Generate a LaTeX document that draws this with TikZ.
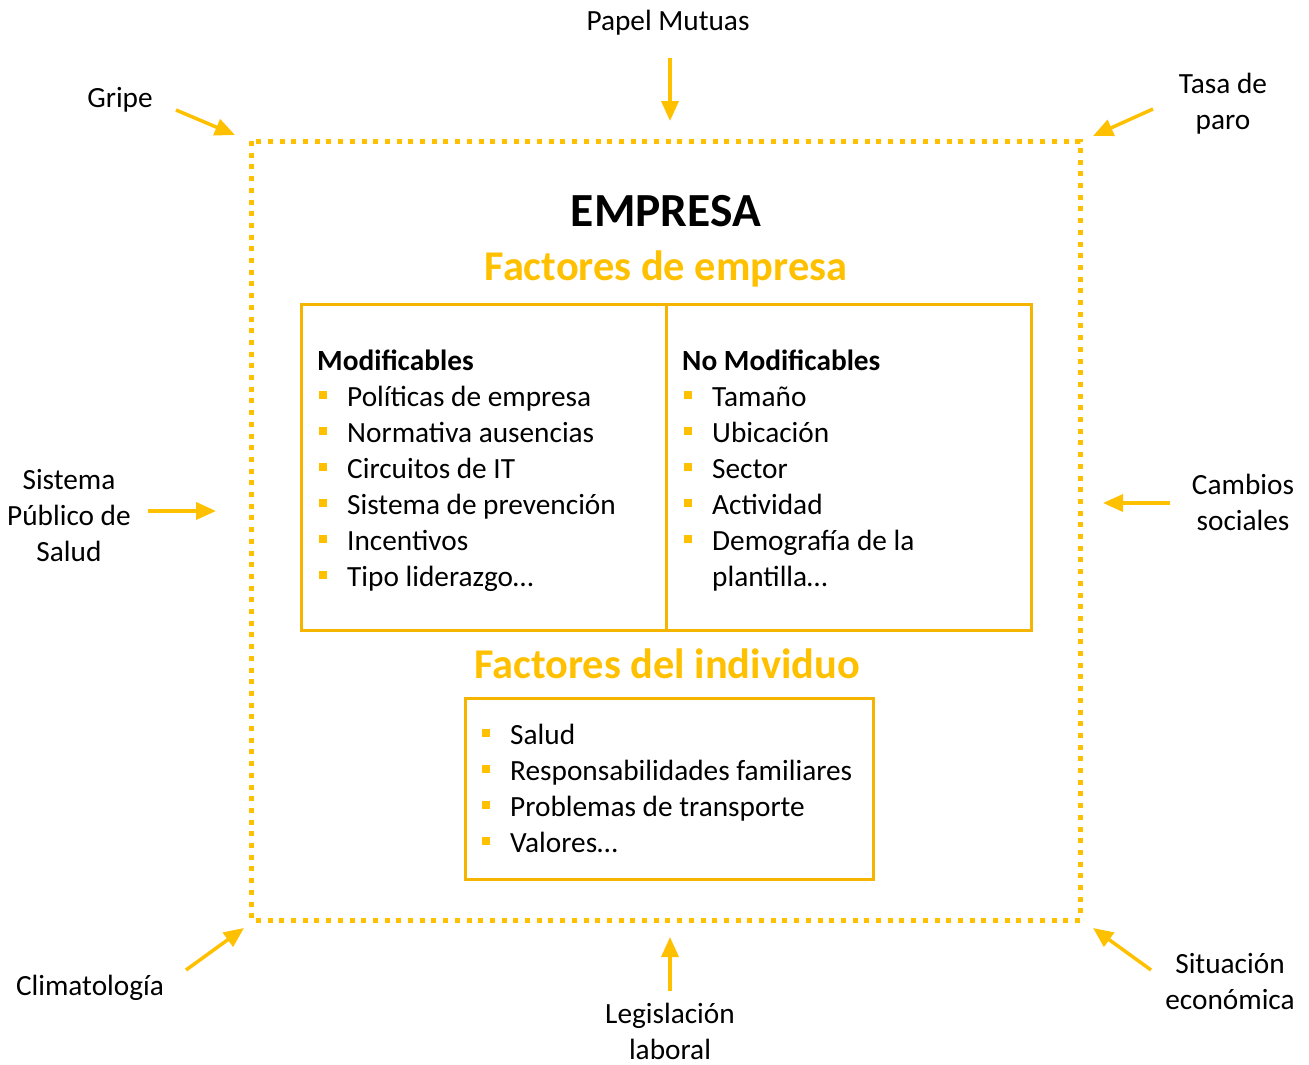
\documentclass[tikz,border=0pt]{standalone}
\usepackage{fontspec}
\setmainfont{Carlito}
\usetikzlibrary{arrows.meta}
\definecolor{gold}{HTML}{FFC000}
\definecolor{boxgold}{HTML}{F5B400}
\begin{document}
\begin{tikzpicture}[x=1pt,y=-1pt,
 txt/.style={font=\fontsize{29.3}{36}\selectfont, inner sep=0pt},
 lbl/.style={txt, align=center},
 item/.style={txt, anchor=base west},
 hd/.style={font=\bfseries\fontsize{29.3}{36}\selectfont, inner sep=0pt, anchor=base west},
 bul/.style={fill=gold, minimum size=8pt, inner sep=0pt},
 arr/.style={draw=gold, line width=3.5pt, -{Triangle[length=20pt,width=17pt]}},
 fbox/.style={draw=boxgold, line width=3pt},
 sect/.style={font=\bfseries\fontsize{42.4}{50}\selectfont, text=gold, inner sep=0pt, anchor=base},
]
\useasboundingbox (0,0) rectangle (1309,1065);
% dotted frame
\draw[draw=gold, line width=5pt, dash pattern=on 5pt off 6.7pt] (251,141) rectangle (1080,920);
% titles
\node[font=\bfseries\fontsize{47.5}{56}\selectfont, inner sep=0pt, anchor=base] (emp) at (666,226) {EMPRESA};
\node[sect] (fe) at (666,280) {Factores de empresa};
\node[sect] (fi) at (667,678) {Factores del individuo};
% boxes
\draw[fbox] (301,304) rectangle (666,630);
\draw[fbox] (666,304) rectangle (1031,630);
\draw[fbox] (465,698) rectangle (873,879);
% left list
\node[hd] (mod) at (317,370) {Modificables};
\foreach \t [count=\i] in {Políticas de empresa,Normativa ausencias,Circuitos de IT,Sistema de prevención,Incentivos,Tipo liderazgo…}{
  \node[bul] (lb\i) at (323,359+36*\i) {};
  \node[item] (lt\i) at (347,370+36*\i) {\t};
}
% right list
\node[hd] (nmod) at (682,370) {No Modificables};
\foreach \t [count=\i] in {Tamaño,Ubicación,Sector,Actividad,Demografía de la}{
  \node[bul] (rb\i) at (688,359+36*\i) {};
  \node[item] (rt\i) at (712,370+36*\i) {\t};
}
\node[item] (rt6) at (712,586) {plantilla…};
% individual list
\foreach \t [count=\i] in {Salud,Responsabilidades familiares,Problemas de transporte,Valores…}{
  \node[bul] (ib\i) at (486,697+36*\i) {};
  \node[item] (it\i) at (510,708+36*\i) {\t};
}
% outer labels
\node[lbl] (pm) at (668,23) {Papel Mutuas};
\node[lbl] (gr) at (120,100) {Gripe};
\node[lbl] (tp) at (1223,104) {Tasa de\\paro};
\node[lbl] (sp) at (69,516) {Sistema\\Público de\\Salud};
\node[lbl] (cs) at (1243,502) {Cambios\\sociales};
\node[lbl] (cl) at (90,988) {Climatología};
\node[lbl] (ll) at (670,1031) {Legislación\\laboral};
\node[lbl] (se) at (1230,982) {Situación\\económica};
% arrow end points
\coordinate (pm1) at (670,58);   \coordinate (pm2) at (670,121);
\coordinate (gr1) at (176,110);  \coordinate (gr2) at (235,135);
\coordinate (tp1) at (1153,109); \coordinate (tp2) at (1093,136);
\coordinate (sp1) at (148,511);  \coordinate (sp2) at (216,511);
\coordinate (cs1) at (1170,503); \coordinate (cs2) at (1103,503);
\coordinate (cl1) at (186,970);  \coordinate (cl2) at (244,928);
\coordinate (ll1) at (670,991);  \coordinate (ll2) at (670,937);
\coordinate (se1) at (1151,970); \coordinate (se2) at (1093,928);
\foreach \a in {pm,gr,tp,sp,cs,cl,ll,se}{\draw[arr] (\a1) -- (\a2);}
\end{tikzpicture}
\end{document}
